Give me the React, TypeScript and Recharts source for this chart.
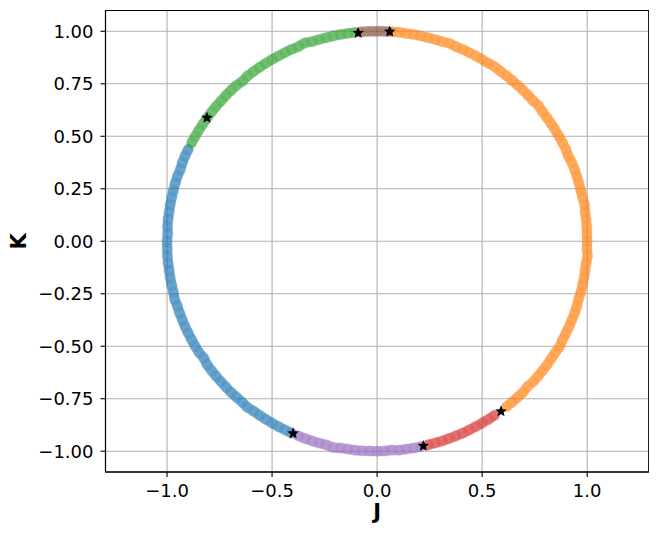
import { ScatterChart, Scatter, XAxis, YAxis, CartesianGrid, ReferenceArea } from 'recharts';

type Pt = [number, number];

// cluster members
const blue: Pt[] = [
  [-0.899, 0.438], [-0.914, 0.407], [-0.927, 0.375], [-0.937, 0.341], [-0.951, 0.309],
  [-0.961, 0.276], [-0.97, 0.242], [-0.978, 0.208], [-0.985, 0.174], [-0.99, 0.139],
  [-0.995, 0.105], [-0.998, 0.07], [-0.997, 0.035], [-1.0, 0.0], [-0.999, -0.035],
  [-0.998, -0.07], [-0.995, -0.105], [-0.99, -0.139], [-0.985, -0.174], [-0.978, -0.208],
  [-0.97, -0.242], [-0.964, -0.277], [-0.951, -0.309], [-0.94, -0.342], [-0.927, -0.375],
  [-0.914, -0.407], [-0.899, -0.438], [-0.883, -0.469], [-0.866, -0.5], [-0.848, -0.53],
  [-0.825, -0.556], [-0.809, -0.588], [-0.788, -0.616], [-0.766, -0.643], [-0.743, -0.669],
  [-0.719, -0.695], [-0.695, -0.719], [-0.669, -0.743], [-0.643, -0.766], [-0.618, -0.791],
  [-0.588, -0.809], [-0.559, -0.829], [-0.53, -0.848], [-0.5, -0.866], [-0.469, -0.883],
  [-0.438, -0.899], [-0.407, -0.914],
];

const orange: Pt[] = [
  [0.07, 0.998], [0.105, 0.995], [0.139, 0.99], [0.174, 0.985], [0.208, 0.978],
  [0.242, 0.97], [0.276, 0.961], [0.309, 0.951], [0.343, 0.943], [0.375, 0.927],
  [0.407, 0.914], [0.438, 0.899], [0.469, 0.883], [0.5, 0.866], [0.53, 0.848],
  [0.561, 0.831], [0.588, 0.809], [0.616, 0.788], [0.643, 0.766], [0.669, 0.743],
  [0.695, 0.719], [0.719, 0.695], [0.743, 0.669], [0.769, 0.645], [0.788, 0.616],
  [0.809, 0.588], [0.829, 0.559], [0.848, 0.53], [0.866, 0.5], [0.883, 0.469],
  [0.899, 0.438], [0.91, 0.405], [0.927, 0.375], [0.94, 0.342], [0.951, 0.309],
  [0.961, 0.276], [0.97, 0.242], [0.978, 0.208], [0.988, 0.174], [0.99, 0.139],
  [0.995, 0.105], [0.998, 0.07], [0.999, 0.035], [1.0, 0.0], [0.999, -0.035],
  [1.002, -0.07], [0.995, -0.105], [0.99, -0.139], [0.985, -0.174], [0.978, -0.208],
  [0.97, -0.242], [0.959, -0.275], [0.951, -0.309], [0.94, -0.342], [0.927, -0.375],
  [0.914, -0.407], [0.899, -0.438], [0.883, -0.469], [0.869, -0.502], [0.848, -0.53],
  [0.829, -0.559], [0.809, -0.588], [0.788, -0.616], [0.766, -0.643], [0.743, -0.669],
  [0.716, -0.692], [0.695, -0.719], [0.669, -0.743], [0.643, -0.766], [0.616, -0.788],
];

const green: Pt[] = [
  [-0.105, 0.995], [-0.139, 0.99], [-0.174, 0.985], [-0.208, 0.978], [-0.242, 0.97],
  [-0.276, 0.961], [-0.309, 0.951], [-0.344, 0.945], [-0.375, 0.927], [-0.407, 0.914],
  [-0.438, 0.899], [-0.469, 0.883], [-0.5, 0.866], [-0.53, 0.848], [-0.559, 0.829],
  [-0.588, 0.809], [-0.616, 0.788], [-0.64, 0.763], [-0.669, 0.743], [-0.695, 0.719],
  [-0.719, 0.695], [-0.743, 0.669], [-0.766, 0.643], [-0.788, 0.616], [-0.809, 0.588],
  [-0.829, 0.559], [-0.848, 0.53], [-0.866, 0.5], [-0.883, 0.469],
];

const red: Pt[] = [
  [0.242, -0.97], [0.276, -0.961], [0.309, -0.951], [0.342, -0.94], [0.375, -0.927],
  [0.407, -0.914], [0.438, -0.899], [0.469, -0.883], [0.5, -0.866], [0.53, -0.848],
  [0.559, -0.829],
];

const purple: Pt[] = [
  [-0.375, -0.927], [-0.342, -0.94], [-0.309, -0.951], [-0.276, -0.961], [-0.242, -0.97],
  [-0.209, -0.982], [-0.174, -0.985], [-0.139, -0.99], [-0.105, -0.995], [-0.07, -0.998],
  [-0.035, -0.999], [0.0, -1.0], [0.035, -0.999], [0.07, -0.994], [0.105, -0.995],
  [0.139, -0.99], [0.174, -0.985], [0.208, -0.978],
];

const brown: Pt[] = [
  [0.052, 0.999], [0.026, 1.0], [0.0, 1.0], [-0.026, 1.0], [-0.052, 0.999], [-0.078, 0.997],
];

const centers: Pt[] = [
  [-0.09, 0.992], [0.06, 0.998], [-0.81, 0.588], [0.59, -0.81], [0.22, -0.975], [-0.4, -0.915],
];

const xTicks = [-1, -0.5, 0, 0.5, 1];
const yTicks = [-1, -0.75, -0.5, -0.25, 0, 0.25, 0.5, 0.75, 1];
const xDomain: [number, number] = [-1.293, 1.293];
const yDomain: [number, number] = [-1.099, 1.099];

const toPts = (arr: Pt[]) => arr.map(([x, y]) => ({ x, y }));

function fmt(v: number, digits: number) {
  const s = Math.abs(v).toFixed(digits);
  return v < -1e-9 ? '\u2212' + s : s;
}

const dot = (color: string) => (props: any) => (
  <circle cx={props.cx} cy={props.cy} r={5.8} fill={color} fillOpacity={0.22} />
);

function Star(props: any) {
  const { cx, cy } = props;
  const pts: string[] = [];
  for (let i = 0; i < 10; i++) {
    const r = i % 2 === 0 ? 6 : 2.7;
    const a = -Math.PI / 2 + (i * Math.PI) / 5;
    pts.push(`${cx + r * Math.cos(a)},${cy + r * Math.sin(a)}`);
  }
  return <polygon points={pts.join(' ')} fill="#000" />;
}

const tickStyle = { fontSize: 18, fill: '#000', fontFamily: 'DejaVu Sans' };
const labelStyle = { fontSize: 21, fontWeight: 'bold' as const, fontFamily: 'DejaVu Sans', fill: '#000' };

const series = [
  { name: 'c0', data: blue, color: '#1f77b4' },
  { name: 'c1', data: orange, color: '#ff7f0e' },
  { name: 'c2', data: green, color: '#2ca02c' },
  { name: 'c3', data: red, color: '#d62728' },
  { name: 'c4', data: purple, color: '#9467bd' },
  { name: 'c5', data: brown, color: '#8c564b' },
];

export default function App() {
  return (
    <ScatterChart
      width={649}
      height={528}
      margin={{ top: 2.5, right: 8.3, bottom: 0, left: 0.5 }}
      style={{ fontFamily: 'DejaVu Sans' }}
    >
      <CartesianGrid stroke="#b0b0b0" strokeWidth={1.1} />
      <XAxis
        type="number"
        dataKey="x"
        domain={xDomain}
        ticks={xTicks}
        allowDataOverflow
        height={64}
        tick={tickStyle}
        tickSize={5}
        tickMargin={7}
        tickLine={{ stroke: '#000', strokeWidth: 1.1 }}
        axisLine={{ stroke: '#000', strokeWidth: 1.1 }}
        tickFormatter={(v: number) => fmt(v, 1)}
        label={{
          content: (p: any) => (
            <text x={p.viewBox.x + p.viewBox.width / 2} y={511} textAnchor="middle" style={labelStyle}>
              J
            </text>
          ),
        }}
      />
      <YAxis
        type="number"
        dataKey="y"
        domain={yDomain}
        ticks={yTicks}
        allowDataOverflow
        width={97}
        tick={tickStyle}
        tickSize={5}
        tickMargin={7}
        tickLine={{ stroke: '#000', strokeWidth: 1.1 }}
        axisLine={{ stroke: '#000', strokeWidth: 1.1 }}
        tickFormatter={(v: number) => fmt(v, 2)}
        label={{
          content: (p: any) => {
            const cy = p.viewBox.y + p.viewBox.height / 2;
            return (
              <text x={18} y={cy} textAnchor="middle" transform={`rotate(-90, 18, ${cy})`} style={labelStyle}>
                K
              </text>
            );
          },
        }}
      />
      <ReferenceArea
        x1={xDomain[0]}
        x2={xDomain[1]}
        y1={yDomain[0]}
        y2={yDomain[1]}
        fill="none"
        stroke="#000"
        strokeWidth={1.1}
        ifOverflow="visible"
      />
      {series.map((s) => (
        <Scatter
          key={s.name}
          data={toPts(s.data)}
          fill={s.color}
          line={{ stroke: s.color, strokeWidth: 10, strokeOpacity: 0.58, strokeLinecap: 'round', strokeLinejoin: 'round' }}
          shape={dot(s.color)}
          isAnimationActive={false}
        />
      ))}
      <Scatter data={toPts(centers)} shape={Star} isAnimationActive={false} />
    </ScatterChart>
  );
}
